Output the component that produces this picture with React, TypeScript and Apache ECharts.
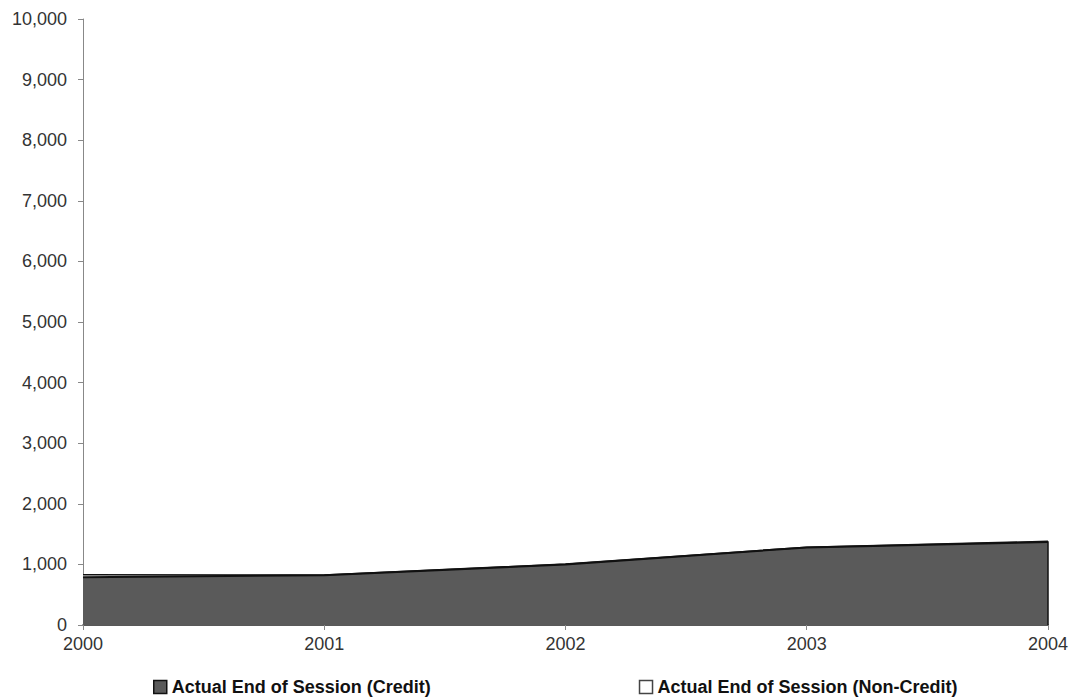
import React, { useEffect, useRef } from "react";
import * as echarts from "echarts";

const years = ["2000", "2001", "2002", "2003", "2004"];
const creditValues = [790, 820, 1000, 1280, 1370];
const nonCreditValues = [40, 5, 5, 5, 10];
const seriesNames = ["Actual End of Session (Credit)", "Actual End of Session (Non-Credit)"];

export default function App() {
  const ref = useRef<HTMLDivElement>(null);
  useEffect(() => {
    if (!ref.current) return;
    const chart = echarts.init(ref.current, null, { renderer: "svg" });
    const font = "'Liberation Sans', Arial, sans-serif";
    const lastIdx = years.length - 1;
    chart.setOption({
      animation: false,
      backgroundColor: "#ffffff",
      grid: { left: 83, right: 21, top: 19, bottom: 75, containLabel: false },
      legend: {
        left: 148,
        top: 672,
        itemGap: 208,
        itemWidth: 13,
        itemHeight: 13,
        textStyle: { fontFamily: font, fontSize: 18, lineHeight: 20, fontWeight: "bold", color: "#111" },
        data: [
          { name: seriesNames[0], icon: "rect", itemStyle: { color: "#5a5a5a", borderColor: "#111", borderWidth: 1.5 } },
          { name: seriesNames[1], icon: "rect", itemStyle: { color: "#ffffff", borderColor: "#444", borderWidth: 1.5 } },
        ],
      },
      xAxis: {
        type: "category",
        data: years,
        boundaryGap: false,
        axisLine: { lineStyle: { color: "#222", width: 1.5 } },
        axisTick: { show: true, alignWithLabel: true, length: 5, lineStyle: { color: "#888" } },
        axisLabel: { fontFamily: font, fontSize: 18, color: "#333", margin: 10 },
        splitLine: { show: false },
      },
      yAxis: {
        type: "value",
        min: 0,
        max: 10000,
        interval: 1000,
        axisLine: { show: true, lineStyle: { color: "#888", width: 1 } },
        axisTick: { show: true, length: 5, lineStyle: { color: "#888" } },
        axisLabel: {
          fontFamily: font,
          fontSize: 18,
          color: "#333",
          margin: 16,
          formatter: (v: number) => v.toLocaleString("en-US"),
        },
        splitLine: { show: false },
      },
      series: [
        {
          name: seriesNames[0],
          type: "line",
          stack: "total",
          data: creditValues,
          symbol: "none",
          lineStyle: { color: "#111", width: 2 },
          itemStyle: { color: "#5a5a5a" },
          areaStyle: { color: "#5a5a5a", opacity: 1 },
          markLine: {
            silent: true,
            symbol: "none",
            label: { show: false },
            lineStyle: { color: "#111", width: 1.5, type: "solid" },
            data: [
              [
                { coord: [years[lastIdx], 0] },
                { coord: [years[lastIdx], creditValues[lastIdx] + nonCreditValues[lastIdx]] },
              ],
            ],
          },
        },
        {
          name: seriesNames[1],
          type: "line",
          stack: "total",
          data: nonCreditValues,
          symbol: "none",
          lineStyle: { color: "#111", width: 1.5 },
          itemStyle: { color: "#ffffff" },
          areaStyle: { color: "#ffffff", opacity: 1 },
        },
      ],
    });
    return () => chart.dispose();
  }, []);
  return <div ref={ref} style={{ width: 1071, height: 700, position: "absolute", left: 0, top: 0 }} />;
}
